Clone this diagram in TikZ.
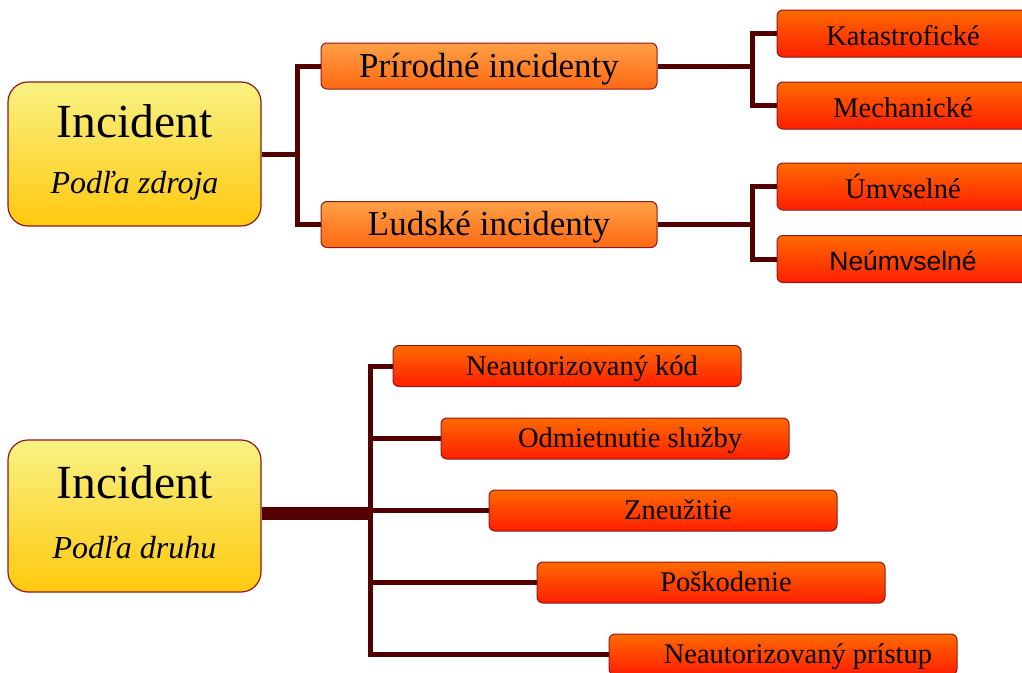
\documentclass[tikz,border=0pt]{standalone}
\usepackage{fontspec}
\setmainfont{Liberation Serif}
\newfontfamily\arialfont{Liberation Sans}
\definecolor{rim}{HTML}{8B1A1A}
\definecolor{branch}{HTML}{520000}
\definecolor{rootTop}{HTML}{F8F283}
\definecolor{rootBot}{HTML}{FFC90E}
\definecolor{midTop}{HTML}{FFA045}
\definecolor{midBot}{HTML}{FF6812}
\definecolor{leafTop}{HTML}{FF6A00}
\definecolor{leafBot}{HTML}{FF1E00}

\begin{document}
\begin{tikzpicture}[x=1pt, y=-1pt,
        root/.style={draw=rim, line width=1.2pt, rounded corners=20pt, top color=rootTop, bottom color=rootBot, minimum width=253pt, minimum height=144pt},
        mid/.style={draw=rim, line width=1pt, rounded corners=6pt, top color=midTop, bottom color=midBot, minimum width=336pt, minimum height=46pt, inner sep=0pt, text height=22pt, text depth=0pt, font=\fontsize{35}{38}\selectfont},
        leaf/.style={draw=rim, line width=1pt, rounded corners=6pt, top color=leafTop, bottom color=leafBot, minimum width=252pt, minimum height=47pt, inner sep=0pt, text height=23pt, text depth=0pt, font=\fontsize{28.5}{32}\selectfont},
        twig/.style={leaf, minimum width=348pt, minimum height=41pt, text height=19pt, text depth=1pt, execute at begin node=\hspace{30pt}},
        link/.style={draw=branch, line width=5pt}]
        \useasboundingbox (0,0) rectangle (1022,672);

        \node[root] (zdroj) at (134.5,154) {};
        \node[font=\fontsize{47.5}{50}\selectfont] (zdrojT) at (134.5,121) {Incident};
        \node[font=\fontsize{32}{35}\selectfont\itshape] (zdrojS) at (134.5,186) {Podľa zdroja};
        \node[mid] (prirodne) at (489,66) {Prírodné incidenty};
        \node[mid] (ludske) at (489,224.5) {Ľudské incidenty};
        \node[leaf] (katastr) at (903,33.5) {Katastrofické};
        \node[leaf] (mechan) at (903,105.5) {Mechanické};
        \node[leaf] (umysel) at (903,186.5) {Úmvselné};
        \node[leaf, font=\arialfont\fontsize{26.5}{30}\selectfont] (neumysel) at (903,259) {Neúmvselné};

        \draw[link] (zdroj.east) -- +(36,0) |- (prirodne.west);
        \draw[link] (zdroj.east) -- +(36,0) |- (ludske.west);
        \draw[link] (prirodne.east) -- +(95,0) |- (katastr.west);
        \draw[link] (prirodne.east) -- +(95,0) |- (mechan.west);
        \draw[link] (ludske.east) -- +(95,0) |- (umysel.west);
        \draw[link] (ludske.east) -- +(95,0) |- (neumysel.west);

        \node[root, minimum height=152pt] (druh) at (134.5,516) {};
        \node[font=\fontsize{47.5}{50}\selectfont] (druhT) at (134.5,482) {Incident};
        \node[font=\fontsize{32}{35}\selectfont\itshape] (druhS) at (134.5,548) {Podľa druhu};
        \node[twig] (kod) at (567,366) {Neautorizovaný kód};
        \node[twig] (sluzba) at (615,438.5) {Odmietnutie služby};
        \node[twig] (zneuzitie) at (663,510.5) {Zneužitie};
        \node[twig] (poskodenie) at (711,582.5) {Poškodenie};
        \node[twig] (pristup) at (783,654.5) {Neautorizovaný prístup};

        \coordinate (hub) at (370,513.5);
        \draw[draw=branch, line width=13pt] (druh.east |- hub) -- (hub);
        \draw[link] (hub) |- (kod.west);
        \draw[link] (hub) |- (sluzba.west);
        \draw[link] (hub) |- (zneuzitie.west);
        \draw[link] (hub) |- (poskodenie.west);
        \draw[link] (hub) |- (pristup.west);
    \end{tikzpicture}
\end{document}
